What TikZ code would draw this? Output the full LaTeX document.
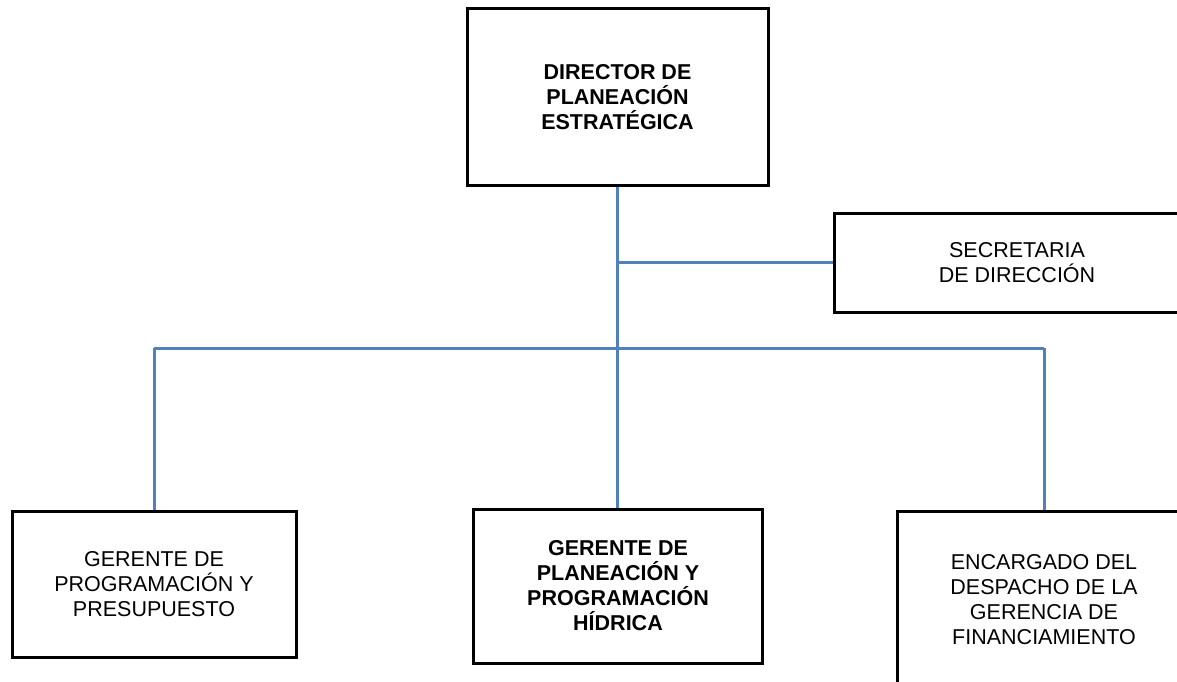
\documentclass[tikz,border=0pt]{standalone}
\usepackage{fontspec}
\setmainfont{Liberation Sans}
\definecolor{linkblue}{HTML}{4F81BD}
\tikzset{
  box/.style={draw=black, line width=3pt, align=center, inner sep=0pt,
    font=\fontsize{21.5}{25}\selectfont},
  boldbox/.style={box, font=\fontsize{21.5}{25}\selectfont\bfseries},
  link/.style={draw=linkblue, line width=3pt}
}
\begin{document}
\begin{tikzpicture}[x=1pt,y=-1pt]
\useasboundingbox (0,0) rectangle (1177,682);
\clip (0,0) rectangle (1177,682);
\node[boldbox, minimum width=301pt, minimum height=176pt] (dir) at (617.5,97) {DIRECTOR DE\\PLANEACIÓN\\ESTRATÉGICA};
\node[box, minimum width=366pt, minimum height=99pt] (sec) at (1017,262.5) {SECRETARIA\\DE DIRECCIÓN};
\node[box, minimum width=284pt, minimum height=146pt] (g1) at (154,584) {GERENTE DE\\PROGRAMACIÓN Y\\PRESUPUESTO};
\node[boldbox, minimum width=289pt, minimum height=154pt] (g2) at (618,586) {GERENTE DE\\PLANEACIÓN Y\\PROGRAMACIÓN\\HÍDRICA};
\node[box, minimum width=294pt, minimum height=178pt] (g3) at (1044,600) {ENCARGADO DEL\\DESPACHO DE LA\\GERENCIA DE\\FINANCIAMIENTO};
\coordinate (jsec) at (dir.south |- sec.west);
\coordinate (bus) at (dir.south |- 0,348);
\coordinate (busl) at (g1.north |- bus);
\coordinate (busr) at (g3.north |- bus);
\draw[link] (dir.south) -- (dir.south |- g2.north);
\draw[link] (jsec) -- (sec.west);
\draw[link] (busl) -- (busr);
\draw[link] (busl) -- (g1.north);
\draw[link] (busr) -- (g3.north);
\end{tikzpicture}
\end{document}
